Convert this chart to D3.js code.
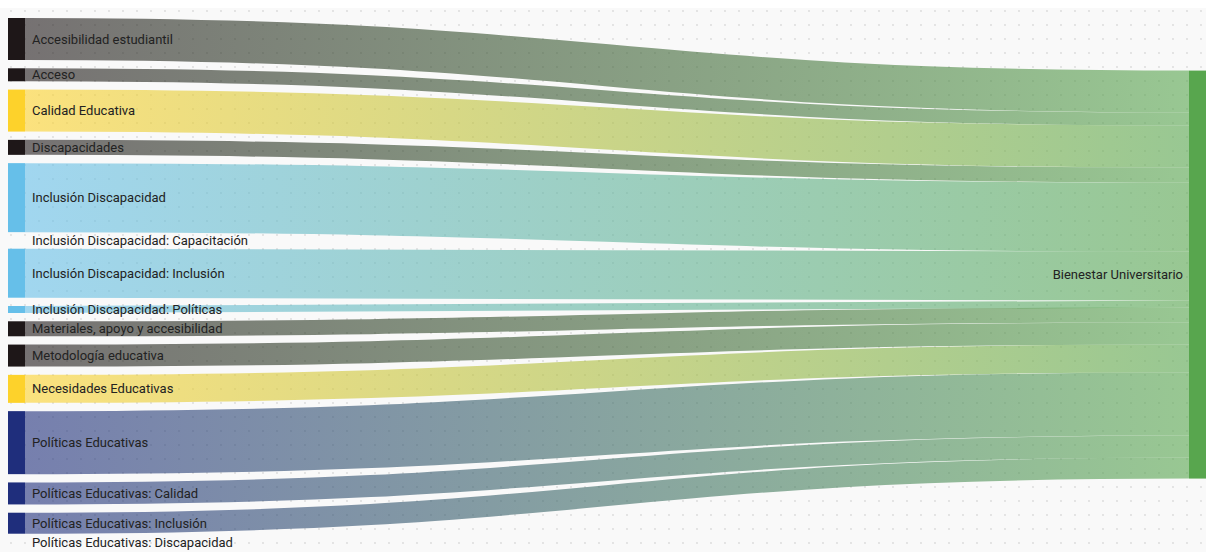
<!DOCTYPE html>
<html>
<head>
<meta charset="utf-8">
<script src="https://cdn.jsdelivr.net/npm/d3@7"></script>
<style>
  html, body { margin: 0; padding: 0; background: #ffffff; }
  svg { display: block; }
  text { font-family: Roboto, "Liberation Sans", sans-serif; }
</style>
</head>
<body>
<svg id="chart" width="1206" height="552"></svg>
<script>
// ---- data ----
const sources = [
  "Accesibilidad estudiantil",
  "Acceso",
  "Calidad Educativa",
  "Discapacidades",
  "Inclusión Discapacidad",
  "Inclusión Discapacidad: Capacitación",
  "Inclusión Discapacidad: Inclusión",
  "Inclusión Discapacidad: Políticas",
  "Materiales, apoyo y accesibilidad",
  "Metodología educativa",
  "Necesidades Educativas",
  "Políticas Educativas",
  "Políticas Educativas: Calidad",
  "Políticas Educativas: Inclusión",
  "Políticas Educativas: Discapacidad"
];
const values = [42, 13, 42, 15, 69, 0, 49, 7, 15, 22, 28, 63, 22, 21, 0];
const sourceGroups = ["dark", "dark", "yellow", "dark", "blue", "blue", "blue", "blue",
                      "dark", "dark", "yellow", "navy", "navy", "navy", "navy"];
const target = "Bienestar Universitario";
const groupColors = { dark: "#1e1718", yellow: "#fdd22b", blue: "#66bfe9", navy: "#1f2e7c", target: "#58a64e" };

// ---- layout ----
const W = 1206, H = 552;
const nodeW = 17;
const yTop = 18, yBottom = 542;
const leftX = 8, rightX = W - nodeW;
const total = d3.sum(values);
const pad = (yBottom - yTop - total) / (values.length - 1);
const hScale = d3.scaleLinear().domain([0, total]).range([0, yBottom - yTop - pad * (values.length - 1)]);

const svg = d3.select("#chart");
const defs = svg.append("defs");

// background with dotted grid
const pat = defs.append("pattern").attr("id", "dots").attr("patternUnits", "userSpaceOnUse")
  .attr("width", 14).attr("height", 14).attr("x", 4).attr("y", 4);
pat.append("rect").attr("width", 14).attr("height", 14).attr("fill", "#f9f9f9");
pat.append("circle").attr("cx", 7).attr("cy", 7).attr("r", 0.9).attr("fill", "#dadada");
svg.append("rect").attr("x", 0).attr("y", 8).attr("width", W).attr("height", H - 8).attr("fill", "url(#dots)");

// left nodes
let yy = yTop;
const leftNodes = sources.map((name, i) => {
  const h = hScale(values[i]);
  const n = { name, value: values[i], group: sourceGroups[i], y0: yy, y1: yy + h };
  yy += h + pad;
  return n;
});
// right node centered on value-weighted mean of sources
const meanCenter = d3.sum(leftNodes, d => d.value * (d.y0 + d.y1) / 2) / total;
const rH = hScale(total);
const right = { name: target, y0: meanCenter - rH / 2, y1: meanCenter + rH / 2 };

// links
let ry = right.y0;
const links = leftNodes.map((n, i) => {
  const w = hScale(n.value);
  const l = { source: n, width: w, ys: (n.y0 + n.y1) / 2, yt: ry + w / 2, i };
  ry += w;
  return l;
});

const linkGen = d3.linkHorizontal().x(d => d[0]).y(d => d[1]);

links.forEach(l => {
  const g = defs.append("linearGradient").attr("id", "grad" + l.i)
    .attr("gradientUnits", "userSpaceOnUse")
    .attr("x1", leftX + nodeW).attr("x2", rightX);
  g.append("stop").attr("offset", "0%").attr("stop-color", groupColors[l.source.group]);
  g.append("stop").attr("offset", "100%").attr("stop-color", groupColors.target);
});

svg.append("g").selectAll("path").data(links.filter(l => l.width > 0)).join("path")
  .attr("d", l => linkGen({ source: [leftX + nodeW, l.ys], target: [rightX, l.yt] }))
  .attr("fill", "none")
  .attr("stroke", l => `url(#grad${l.i})`)
  .attr("stroke-opacity", 0.6)
  .attr("stroke-width", l => l.width);

// nodes
svg.append("g").selectAll("rect").data(leftNodes).join("rect")
  .attr("x", leftX).attr("y", d => d.y0).attr("width", nodeW).attr("height", d => d.y1 - d.y0)
  .attr("fill", d => groupColors[d.group]);
svg.append("rect").attr("x", rightX).attr("y", right.y0).attr("width", nodeW).attr("height", right.y1 - right.y0)
  .attr("fill", groupColors.target);

// labels
svg.append("g").selectAll("text").data(leftNodes).join("text")
  .attr("x", leftX + nodeW + 7).attr("y", d => (d.y0 + d.y1) / 2)
  .attr("dy", "0.35em")
  .attr("font-size", 13).attr("fill", "#222222")
  .text(d => d.name);
svg.append("text").attr("x", rightX - 6).attr("y", (right.y0 + right.y1) / 2)
  .attr("dy", "0.35em").attr("text-anchor", "end")
  .attr("font-size", 13).attr("fill", "#222222")
  .text(right.name);
</script>
</body>
</html>
